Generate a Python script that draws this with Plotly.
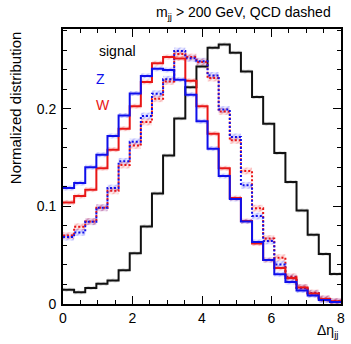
import plotly.graph_objects as go

# ---- data ----
bin_width = 0.32
bin_edges = [round(i * bin_width, 2) for i in range(26)]

signal = [0.0146, 0.0119, 0.0164, 0.0207, 0.0241, 0.0346, 0.0519, 0.0794, 0.1132, 0.1520,
          0.1900, 0.2220, 0.2432, 0.2623, 0.2657, 0.2572, 0.2380, 0.2119, 0.1845, 0.1545,
          0.1249, 0.0958, 0.0709, 0.0512, 0.0307]
z_ew = [0.1187, 0.1238, 0.1400, 0.1528, 0.1720, 0.1930, 0.2155, 0.2335, 0.2407, 0.2395,
        0.2296, 0.2142, 0.1870, 0.1590, 0.1310, 0.1075, 0.0845, 0.0635, 0.0450, 0.0305,
        0.0225, 0.0138, 0.0088, 0.0040, 0.0020]
w_ew = [0.1040, 0.1105, 0.1170, 0.1390, 0.1580, 0.1794, 0.2025, 0.2273, 0.2465, 0.2528,
        0.2513, 0.2284, 0.2025, 0.1743, 0.1390, 0.1085, 0.0850, 0.0620, 0.0450, 0.0368,
        0.0266, 0.0170, 0.0108, 0.0052, 0.0027]
z_qcd = [0.0685, 0.0733, 0.0842, 0.0985, 0.1187, 0.1460, 0.1660, 0.1924, 0.2152, 0.2300,
         0.2590, 0.2515, 0.2485, 0.2340, 0.1990, 0.1710, 0.1215, 0.0900, 0.0645, 0.0405,
         0.0268, 0.0165, 0.0108, 0.0050, 0.0025]
w_qcd = [0.0700, 0.0790, 0.0845, 0.0985, 0.1158, 0.1422, 0.1622, 0.1863, 0.2101, 0.2278,
         0.2560, 0.2528, 0.2477, 0.2313, 0.1971, 0.1675, 0.1362, 0.0980, 0.0670, 0.0474,
         0.0280, 0.0170, 0.0113, 0.0054, 0.0027]

# approximate half-widths of the hatched uncertainty bands
err_signal = 0.0020
err_ew = 0.0025
err_qcd = 0.0035

x_ticks = [0, 2, 4, 6, 8]
y_ticks = [0, 0.1, 0.2]
y_tick_text = ["0", "0.1", "0.2"]

BLACK = "#111111"
BLUE = "rgb(15,15,235)"
RED = "rgb(232,22,22)"
FONT = "Liberation Sans, Arial, Helvetica, sans-serif"

centers = [(bin_edges[i] + bin_edges[i + 1]) / 2 for i in range(len(bin_edges) - 1)]

fig = go.Figure()


def band(vals, err, fg, bg):
    fig.add_trace(go.Bar(
        x=centers, y=[2 * err] * len(vals), base=[v - err for v in vals],
        width=bin_width,
        marker=dict(color=bg, line=dict(width=0),
                    pattern=dict(shape="/", fgcolor=fg, size=4, solidity=0.35)),
        showlegend=False, hoverinfo="skip"))


def step(vals, color, dash="solid", width=2):
    fig.add_trace(go.Scatter(
        x=bin_edges, y=list(vals) + [vals[-1]], mode="lines",
        line=dict(color=color, width=width, shape="hv", dash=dash),
        showlegend=False, hoverinfo="skip"))


band(signal, err_signal, "rgba(120,120,120,0.7)", "rgba(150,150,150,0.15)")
band(z_qcd, err_qcd, "rgba(60,60,255,0.6)", "rgba(60,60,255,0.12)")
band(w_qcd, err_qcd, "rgba(240,60,60,0.6)", "rgba(240,60,60,0.12)")
band(z_ew, err_ew, "rgba(60,60,255,0.6)", "rgba(60,60,255,0.12)")
band(w_ew, err_ew, "rgba(240,60,60,0.6)", "rgba(240,60,60,0.12)")

step(signal, BLACK)
step(w_qcd, RED, dash="2px,2px")
step(z_qcd, BLUE, dash="2px,2px")
step(w_ew, RED)
step(z_ew, BLUE)

fig.update_layout(
    width=351, height=344,
    margin=dict(l=63, r=6, t=29, b=40),
    paper_bgcolor="white", plot_bgcolor="white",
    barmode="overlay",
    font=dict(family=FONT, size=14, color="black"),
    showlegend=False,
)

axis_common = dict(
    showline=True, linecolor="black", linewidth=2, mirror="ticks",
    ticks="inside", tickcolor="black", tickwidth=1.2, ticklen=8,
    showgrid=False, zeroline=False,
    tickfont=dict(family=FONT, size=14, color="black"),
)

fig.update_xaxes(range=[0, 8], tickvals=x_ticks,
                 minor=dict(dtick=0.5, ticks="inside", ticklen=4, tickcolor="black", showgrid=False),
                 **axis_common)
fig.update_yaxes(range=[0, 0.2815], tickvals=y_ticks, ticktext=y_tick_text,
                 minor=dict(dtick=0.02, ticks="inside", ticklen=4, tickcolor="black", showgrid=False),
                 ticklabelstandoff=2,
                 **axis_common)

ann = [
    dict(text="m<sub>jj</sub> > 200 GeV, QCD dashed", xref="paper", yref="paper",
         x=(337 - 63) / 282, y=(304.3 - 13.5) / 275, xanchor="right", yanchor="middle",
         showarrow=False, font=dict(size=14, color="black")),
    dict(text="Normalized distribution", xref="paper", yref="paper",
         x=(15 - 63) / 282, y=1.0, xanchor="center", yanchor="top", textangle=-90,
         showarrow=False, font=dict(size=15, color="black")),
    dict(text="Δη<sub>jj</sub>", xref="paper", yref="paper",
         x=1.0, y=(304.3 - 331) / 275, xanchor="right", yanchor="middle",
         showarrow=False, font=dict(size=14, color="black")),
    dict(text="signal", xref="x", yref="y", x=0.99, y=0.2585,
         xanchor="left", yanchor="middle", showarrow=False, font=dict(size=14, color="black")),
    dict(text="Z", xref="x", yref="y", x=0.879, y=0.230,
         xanchor="left", yanchor="middle", showarrow=False, font=dict(size=14, color=BLUE)),
    dict(text="W", xref="x", yref="y", x=0.879, y=0.204,
         xanchor="left", yanchor="middle", showarrow=False, font=dict(size=14, color=RED)),
]
fig.update_layout(annotations=ann)

fig.write_html("out.html")
